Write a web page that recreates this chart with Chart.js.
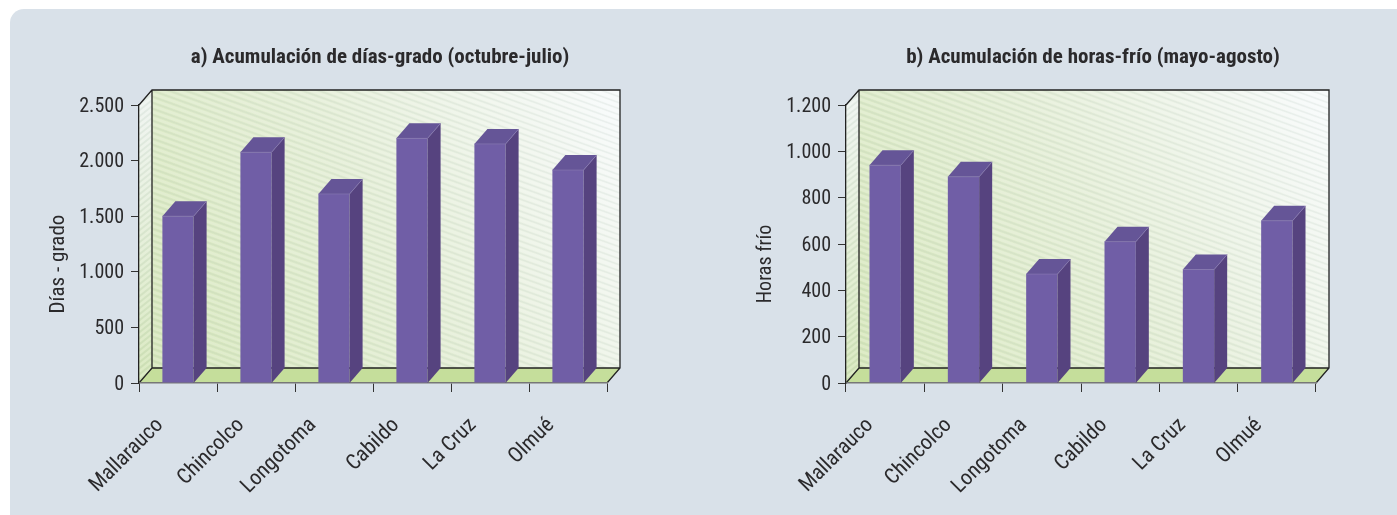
<!DOCTYPE html>
<html lang="es">
<head>
<meta charset="utf-8">
<title>Acumulación de días-grado y horas-frío</title>
<script src="https://cdn.jsdelivr.net/npm/chart.js@4"></script>
<style>
    html, body { margin: 0; height: 100%; background: #fff; overflow: hidden; }
    #panel {
        position: absolute; left: 10px; top: 9px; width: 1400px; height: 520px;
        background: #d9e1e9; border-radius: 14px;
    }
    canvas { position: absolute; top: 9px; }
    #chartA { left: 10px; }
    #chartB { left: 750px; }
</style>
</head>
<body>
<div id="panel"></div>
<canvas id="chartA" width="740" height="506"></canvas>
<canvas id="chartB" width="647" height="506"></canvas>
<script>
const categories = ['Mallarauco', 'Chincolco', 'Longotoma', 'Cabildo', 'La Cruz', 'Olmué'];

const diasGrado = [1500, 2075, 1700, 2200, 2150, 1915];
const diasGradoTicks = [0, 500, 1000, 1500, 2000, 2500];

const horasFrio = [940, 890, 470, 610, 490, 700];
const horasFrioTicks = [0, 200, 400, 600, 800, 1000, 1200];

const FONT = "'Roboto Condensed', 'Liberation Sans', sans-serif";
const INK = '#2b2a2c';
const DEPTH_X = 13;
const DEPTH_Y = 15;

function milesLabel(value) {
    return String(value).replace(/\B(?=(\d{3})+$)/g, '.');
}

function tracePoly(ctx, pts) {
    ctx.beginPath();
    pts.forEach((p, i) => i ? ctx.lineTo(p[0], p[1]) : ctx.moveTo(p[0], p[1]));
    ctx.closePath();
}

function poly(ctx, pts, fill) {
    tracePoly(ctx, pts);
    ctx.fillStyle = fill;
    ctx.fill();
}

// diagonal hatch clipped to a wall polygon
function hatch(ctx, pts, slope) {
    ctx.save();
    tracePoly(ctx, pts);
    ctx.clip();
    const xs = pts.map(p => p[0]);
    const ys = pts.map(p => p[1]);
    const x0 = Math.min(...xs), x1 = Math.max(...xs);
    const y0 = Math.min(...ys), y1 = Math.max(...ys);
    const rise = (x1 - x0) * Math.abs(slope);
    for (let y = y0 - rise - 20; y < y1 + rise + 20; y += 6) {
        [[y, 2.6, 'rgba(255,255,255,0.2)'], [y + 3, 1.6, 'rgba(170,190,180,0.17)']].forEach(([start, width, color]) => {
            ctx.lineWidth = width;
            ctx.strokeStyle = color;
            ctx.beginPath();
            ctx.moveTo(x0, start);
            ctx.lineTo(x1, start + (x1 - x0) * slope);
            ctx.stroke();
        });
    }
    ctx.restore();
}

/* =========================
   3D box, bar faces and text
========================= */
const box3d = {
    id: 'box3d',
    beforeDraw(chart) {
        const { ctx, chartArea: { left, right, top, bottom } } = chart;
        const backL = left + DEPTH_X, backR = right + DEPTH_X;
        const backT = top - DEPTH_Y, backB = bottom - DEPTH_Y;

        const backWall = [[backL, backT], [backR, backT], [backR, backB], [backL, backB]];
        const sideWall = [[left, top], [backL, backT], [backL, backB], [left, bottom]];
        const floor = [[left, bottom], [backL, backB], [backR, backB], [right, bottom]];

        const wallFill = ctx.createLinearGradient(left, bottom, right, top);
        wallFill.addColorStop(0, '#d4e6b7');
        wallFill.addColorStop(0.55, '#e4eed6');
        wallFill.addColorStop(1, '#f7fafa');
        poly(ctx, backWall, wallFill);
        hatch(ctx, backWall, 0.36);

        const sideFill = ctx.createLinearGradient(0, bottom, 0, top);
        sideFill.addColorStop(0, '#d2e5b4');
        sideFill.addColorStop(1, '#edf3ee');
        poly(ctx, sideWall, sideFill);
        hatch(ctx, sideWall, -0.8);

        poly(ctx, floor, '#c5de9b');

        ctx.save();
        ctx.strokeStyle = '#222';
        ctx.lineWidth = 1.3;
        ctx.beginPath();
        ctx.moveTo(left, top); ctx.lineTo(backL, backT); ctx.lineTo(backR, backT); ctx.lineTo(backR, backB);
        ctx.lineTo(right, bottom);
        ctx.moveTo(backL, backT); ctx.lineTo(backL, backB); ctx.lineTo(backR, backB);
        ctx.moveTo(backL, backB); ctx.lineTo(left, bottom);
        ctx.stroke();
        ctx.restore();
    },
    // side and top faces of each bar, taken from the bar elements
    afterDatasetsDraw(chart) {
        const { ctx, chartArea: { bottom } } = chart;
        chart.getDatasetMeta(0).data.forEach(bar => {
            const l = bar.x - bar.width / 2;
            const r = bar.x + bar.width / 2;
            poly(ctx, [[r, bar.y], [r + DEPTH_X, bar.y - DEPTH_Y], [r + DEPTH_X, bottom - DEPTH_Y], [r, bottom]], '#56437f');
            poly(ctx, [[l, bar.y], [l + DEPTH_X, bar.y - DEPTH_Y], [r + DEPTH_X, bar.y - DEPTH_Y], [r, bar.y]], '#655597');
            ctx.strokeStyle = '#8577b0';
            ctx.lineWidth = 0.7;
            ctx.beginPath();
            ctx.moveTo(l, bar.y); ctx.lineTo(r, bar.y); ctx.lineTo(r + DEPTH_X, bar.y - DEPTH_Y);
            ctx.stroke();
        });
    },
    // heading, axis name and slanted category names
    afterDraw(chart, args, opts) {
        const { ctx, chartArea, scales: { x } } = chart;
        ctx.save();
        ctx.fillStyle = INK;
        ctx.textBaseline = 'middle';

        ctx.textAlign = 'center';
        ctx.font = 'bold ' + opts.titleSize + 'px ' + FONT;
        ctx.fillText(opts.title, opts.titleX, 49);

        ctx.save();
        ctx.translate(opts.nameX, opts.nameY);
        ctx.rotate(-Math.PI / 2);
        ctx.font = opts.nameSize + 'px ' + FONT;
        ctx.fillText(opts.name, 0, 0);
        ctx.restore();

        ctx.textAlign = 'right';
        ctx.font = opts.labelSize + 'px ' + FONT;
        categories.forEach((name, i) => {
            ctx.save();
            ctx.translate(x.getPixelForValue(i) + opts.labelShift[i], chartArea.bottom + 39);
            ctx.rotate(-Math.PI / 4);
            ctx.fillText(name, 0, 0);
            ctx.restore();
        });
        ctx.restore();
    }
};

function buildChart(id, values, ticks, frame) {
    new Chart(document.getElementById(id), {
        type: 'bar',
        plugins: [box3d],
        data: {
            labels: categories,
            datasets: [{
                data: values,
                backgroundColor: '#705ea6',
                barPercentage: 0.4,
                categoryPercentage: 1
            }]
        },
        options: {
            responsive: false,
            animation: false,
            layout: { autoPadding: false, padding: { top: 96, right: frame.rightGap } },
            plugins: {
                legend: { display: false },
                tooltip: { enabled: false },
                box3d: frame
            },
            scales: {
                x: {
                    afterFit(scale) { scale.height = 132; },
                    grid: { offset: true, drawOnChartArea: false, tickLength: 9, color: '#333' },
                    border: { color: '#777', width: 1.5 },
                    ticks: { display: false }
                },
                y: {
                    min: 0,
                    max: ticks[ticks.length - 1],
                    afterFit(scale) { scale.width = frame.axisWidth; },
                    afterBuildTicks(scale) { scale.ticks = ticks.map(v => ({ value: v })); },
                    grid: { drawOnChartArea: false, tickLength: 8, color: '#333' },
                    border: { color: '#222', width: 1.3 },
                    ticks: {
                        padding: 7,
                        labelOffset: 1.5,
                        color: INK,
                        font: { family: FONT, size: 20 },
                        callback: milesLabel
                    }
                }
            }
        }
    });
}

buildChart('chartA', diasGrado, diasGradoTicks, {
    title: 'a) Acumulación de días-grado (octubre-julio)', titleX: 370, titleSize: 21,
    name: 'Días - grado', nameX: 49, nameY: 255, nameSize: 21, labelSize: 21.5,
    axisWidth: 129, rightGap: 143,
    labelShift: [-18, -15, -21, -16, -17, -17]
});
buildChart('chartB', horasFrio, horasFrioTicks, {
    title: 'b) Acumulación de horas-frío (mayo-agosto)', titleX: 343, titleSize: 21,
    name: 'Horas frío', nameX: 15.5, nameY: 255, nameSize: 20, labelSize: 21.5,
    axisWidth: 96, rightGap: 81,
    labelShift: [-15, -15, -18, -16, -16, -18]
});
</script>
</body>
</html>
